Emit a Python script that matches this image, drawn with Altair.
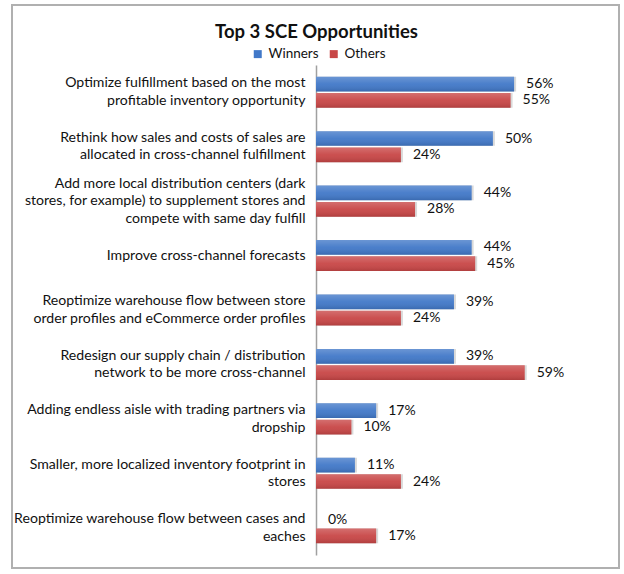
import altair as alt
import pandas as pd

# Opportunities, with the line breaks used for the axis labels
categories = [
    "Optimize fulfillment based on the most\nprofitable inventory opportunity",
    "Rethink how sales and costs of sales are\nallocated in cross-channel fulfillment",
    "Add more local distribution centers (dark\nstores, for example) to supplement stores and\ncompete with same day fulfill",
    "Improve cross-channel forecasts",
    "Reoptimize warehouse flow between store\norder profiles and eCommerce order profiles",
    "Redesign our supply chain / distribution\nnetwork to be more cross-channel",
    "Adding endless aisle with trading partners via\ndropship",
    "Smaller, more localized inventory footprint in\nstores",
    "Reoptimize warehouse flow between cases and\neaches",
]
winners = [56, 50, 44, 44, 39, 39, 17, 11, 0]
others = [55, 24, 28, 45, 24, 59, 10, 24, 17]
series = ["Winners", "Others"]
colors = ["#4178c8", "#c84646"]

rows = []
for cat, w, o in zip(categories, winners, others):
    rows.append({"category": cat, "series": "Winners", "value": w})
    rows.append({"category": cat, "series": "Others", "value": o})
df = pd.DataFrame(rows)

FONT = "Lato"
LINE_H = 17.5

# shift multi-line labels up so each block is centred on its category
n_lines = "length(split(datum.value, '\\n'))"
label_offset = {
    "condition": [
        {"test": f"{n_lines} == 3", "value": -LINE_H},
        {"test": f"{n_lines} == 2", "value": -LINE_H / 2},
    ],
    "value": 0,
}

y_enc = alt.Y(
    "category:N",
    sort=categories,
    scale=alt.Scale(paddingInner=0.43, paddingOuter=0.215),
    axis=alt.Axis(
        title=None,
        ticks=False,
        labelExpr="split(datum.label, '\\n')",
        labelFont=FONT,
        labelFontSize=14.1,
        labelColor="#111111",
        labelLineHeight=LINE_H,
        labelPadding=11,
        labelLimit=400,
        labelOffset=label_offset,
        domainColor="#a0a0a0",
        domainWidth=1.5,
    ),
)
x_enc = alt.X("value:Q", scale=alt.Scale(domain=[0, 80]), axis=None)
yoff_enc = alt.YOffset("series:N", sort=series, scale=alt.Scale(paddingInner=0.1, paddingOuter=0))

base = alt.Chart(df)

shadow = base.mark_bar(color="#808080", opacity=0.3, xOffset=2, yOffset=2.5).encode(
    x=x_enc, y=y_enc, yOffset=yoff_enc
)

bars = base.mark_bar().encode(
    x=x_enc,
    y=y_enc,
    yOffset=yoff_enc,
    color=alt.Color(
        "series:N",
        sort=series,
        scale=alt.Scale(domain=series, range=colors),
        legend=alt.Legend(
            orient="none",
            legendX=-65,
            legendY=-18,
            direction="horizontal",
            title=None,
            symbolType="square",
            symbolSize=64,
            symbolStrokeWidth=0,
            labelFont=FONT,
            labelFontSize=13.5,
            labelColor="#111111",
            columnPadding=8,
            labelOffset=4,
        ),
    ),
)

# soft vertical shading laid over each bar
shine = base.mark_bar(
    fill=alt.Gradient(
        gradient="linear",
        stops=[
            alt.GradientStop(color="rgba(255,255,255,0.22)", offset=0),
            alt.GradientStop(color="rgba(255,255,255,0.05)", offset=0.5),
            alt.GradientStop(color="rgba(0,0,0,0.12)", offset=1),
        ],
        x1=0, x2=0, y1=0, y2=1,
    )
).encode(x=x_enc, y=y_enc, yOffset=yoff_enc)

labels = base.mark_text(
    align="left", baseline="middle", dx=12, font=FONT, fontSize=14, color="#111111"
).encode(
    x=x_enc,
    y=y_enc,
    yOffset=yoff_enc,
    text=alt.Text("label:N"),
).transform_calculate(label="datum.value + '%'")

# light grey frame around the whole figure
frame = alt.Chart(pd.DataFrame({"k": [0]})).mark_rect(
    fill="transparent", stroke="#b0b0b0", strokeWidth=2
).encode(
    x=alt.value(-304), x2=alt.value(303), y=alt.value(-60), y2=alt.value(503)
)

chart = (
    alt.layer(frame, shadow, bars, shine, labels)
    .properties(
        width=283,
        height=490,
        autosize="none",
        padding={"left": 316, "top": 65, "right": 25, "bottom": 19},
        title=alt.TitleParams(
            "Top 3 SCE Opportunities",
            font=FONT,
            fontSize=18.5,
            fontWeight="bold",
            color="#111111",
            anchor="middle",
            dx=-141,
            offset=-37,
        ),
        background="white",
    )
    .configure_view(stroke=None)
)

chart.save("out.html", embed_options={"renderer": "svg", "actions": False})
